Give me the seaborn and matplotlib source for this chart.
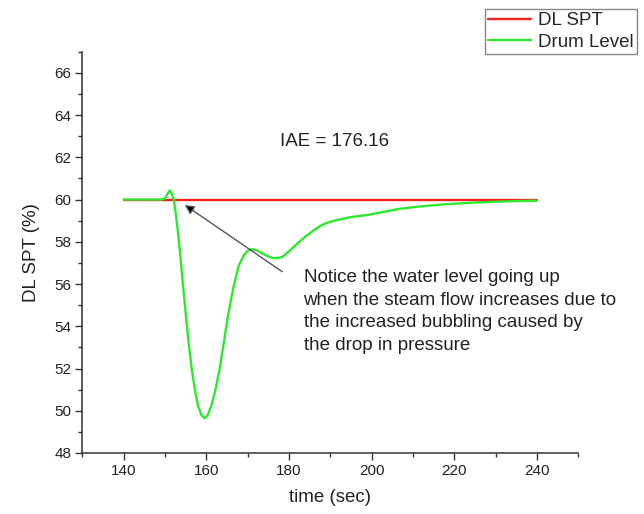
import pandas as pd
import matplotlib
matplotlib.use('Agg')
import matplotlib.pyplot as plt
import seaborn as sns
from matplotlib.ticker import MultipleLocator

# Drum level response
time = [140, 145, 149, 150, 150.5, 151.1, 151.6, 152.1, 152.6, 153.1, 153.7,
        154.3, 155.0, 155.7, 156.5, 157.3, 158.0, 158.8, 159.6, 160.4, 161.2,
        162.2, 163.2, 164.2, 165.3, 166.6, 167.8, 169.0, 170.0, 171.0, 172.2,
        173.5, 175.0, 176.3, 177.3, 178.5, 180.0, 181.9, 184.0, 186.0, 188.0,
        190.0, 192.5, 195.0, 199.0, 203.0, 207.0, 212.0, 218.0, 225.0, 232.0,
        240.0]
drum_level = [60.0, 60.0, 60.0, 60.05, 60.25, 60.43, 60.3, 60.0, 59.3, 58.5,
              57.3, 56.0, 54.6, 53.2, 51.9, 50.9, 50.2, 49.8, 49.64, 49.82,
              50.25, 51.0, 52.0, 53.2, 54.6, 55.9, 56.85, 57.35, 57.58, 57.65,
              57.6, 57.45, 57.3, 57.23, 57.23, 57.3, 57.55, 57.9, 58.25, 58.55,
              58.8, 58.95, 59.07, 59.17, 59.27, 59.42, 59.57, 59.68, 59.78,
              59.86, 59.91, 59.95]
spt_time = [140, 240]
spt_level = [60, 60]

iae_text = 'IAE = 176.16'
note_text = ('Notice the water level going up\n'
             'when the steam flow increases due to\n'
             'the increased bubbling caused by\n'
             'the drop in pressure')

df = pd.concat([
    pd.DataFrame({'time': spt_time, 'level': spt_level, 'series': 'DL SPT'}),
    pd.DataFrame({'time': time, 'level': drum_level, 'series': 'Drum Level'}),
])

sns.set_style('ticks')
plt.rcParams['font.family'] = ['Liberation Sans', 'DejaVu Sans']

fig = plt.figure(figsize=(6.44, 5.14), dpi=100)
ax = fig.add_axes([0.128, 0.1187, 0.77, 0.7807])

sns.lineplot(data=df, x='time', y='level', hue='series',
             hue_order=['DL SPT', 'Drum Level'],
             palette={'DL SPT': '#f52020', 'Drum Level': '#2ee82e'},
             linewidth=1.7, ax=ax)

ax.set_xlim(130, 250)
ax.set_ylim(48, 67)
ax.xaxis.set_major_locator(MultipleLocator(20))
ax.xaxis.set_minor_locator(MultipleLocator(10))
ax.yaxis.set_major_locator(MultipleLocator(2))
ax.yaxis.set_minor_locator(MultipleLocator(1))
ax.tick_params(which='major', direction='out', length=5, width=1,
               color='#333333', labelsize=11, labelcolor='#222222', pad=3)
ax.tick_params(which='minor', direction='out', length=2.8, width=1,
               color='#333333')
for side in ['top', 'right']:
    ax.spines[side].set_visible(False)
for side in ['left', 'bottom']:
    ax.spines[side].set_linewidth(1.1)
    ax.spines[side].set_color('#333333')

ax.set_xlabel('time (sec)', fontsize=13.5, color='#222222', labelpad=8)
ax.set_ylabel('DL SPT (%)', fontsize=13.5, color='#222222', labelpad=10)

ax.text(177.9, 62.75, iae_text, ha='left', va='center', fontsize=13.5,
        color='#222222')
ax.text(183.5, 56.7, note_text, ha='left', va='top', fontsize=13.5,
        color='#222222', linespacing=1.42)
ax.annotate('', xy=(154.2, 59.82), xytext=(178.9, 56.51),
            arrowprops=dict(arrowstyle='-|>', fc='black', ec='#555555',
                            lw=1, mutation_scale=14))

ax.legend(loc='upper left', bbox_to_anchor=(485 / 644, 1 - 9.3 / 514),
          bbox_transform=fig.transFigure, borderaxespad=0, fontsize=13.5,
          frameon=True, fancybox=False, framealpha=1, edgecolor='#888888',
          handlelength=2.3, handletextpad=0.4, borderpad=0.15,
          labelspacing=0.25, title=None)

fig.savefig('out.png', dpi=100)
